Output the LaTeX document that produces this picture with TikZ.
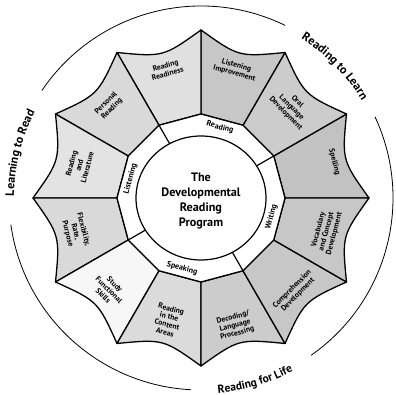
\documentclass[tikz,border=0pt]{standalone}
\usepackage{fontspec}
\setmainfont{PT Sans}
\usetikzlibrary{decorations.text}
\begin{document}
\begin{tikzpicture}[x=1pt,y=1pt,
  petal/.style={draw=black, line width=1.3pt, line join=round},
  ptext/.style={font=\bfseries\fontsize{7.6}{8.2}\selectfont, align=center, inner sep=0pt},
  ringtext/.style={font=\bfseries\fontsize{8}{9}\selectfont, inner sep=0pt},
  arctext/.style={decorate, decoration={text along path, text align=center, text={#1}}}]
\useasboundingbox (0,0) rectangle (396,395);
\begin{scope}[shift={(201,197)}]
  % petals
  \foreach \a/\f in {0/24,30/20,60/22,90/12,120/15,150/11,180/15,210/3,240/14,270/20,300/22,330/22}{
    \filldraw[petal, fill=black!\f] (\a:84) -- (\a:168)
      .. controls (\a+15:146) .. (\a+30:168) -- (\a+30:84) -- cycle;
  }
  % ring
  \filldraw[petal, fill=white] (0:84) -- (30:84) -- (60:84) -- (90:84) -- (120:84) -- (150:84)
    -- (180:84) -- (210:84) -- (240:84) -- (270:84) -- (300:84) -- (330:84) -- cycle;
  \foreach \a in {30,120,210,300}{ \draw[line width=1.2pt] (\a:50) -- (\a:84); }
  \filldraw[line width=1.2pt, fill=white] (0,0) ellipse[x radius=65, y radius=62];
  % outer circle
  \draw[line width=0.8pt] (64:192) arc[start angle=64, end angle=146, radius=192];
  \draw[line width=0.8pt] (188:192) arc[start angle=188, end angle=267, radius=192];
  \draw[line width=0.8pt] (-55:192) arc[start angle=-55, end angle=25, radius=192];
  % arc texts
  \path[arctext={|\bfseries\fontsize{12}{12}\selectfont|Reading to Learn}]
    (63:188) arc[start angle=63, end angle=26, radius=188];
  \path[arctext={|\bfseries\fontsize{12}{12}\selectfont|Learning to Read}]
    (200:187) arc[start angle=200, end angle=132, radius=187];
  \path[arctext={|\bfseries\fontsize{11.5}{12}\selectfont|Reading for Life}]
    (-110:196) arc[start angle=-110, end angle=-37, radius=196];
  % center
  \node[font=\bfseries\fontsize{12.2}{15}\selectfont, align=center, inner sep=0pt] (title) at (0,-3)
    {The\\Developmental\\Reading\\Program};
  % ring labels
  \node[ringtext, rotate=-15] (rRead) at (75:73) {Reading};
  \node[ringtext, rotate=75] (rWrite) at (-15:73) {Writing};
  \node[ringtext, rotate=-15] (rSpeak) at (-105:73) {Speaking};
  \node[ringtext, rotate=75] (rListen) at (165:73) {Listening};
  % petal labels
  \node[ptext, rotate=15] (p1) at (105:133) {Reading\\Readiness};
  \node[ptext, rotate=-15] (p2) at (75:133) {Listening\\Improvement};
  \node[ptext, rotate=-45] (p3) at (45:128) {Oral\\Language\\Development};
  \node[ptext, rotate=-75] (p4) at (15:138) {Spelling};
  \node[ptext, rotate=75] (p5) at (-15:130) {Vocabulary\\and Concept\\Development};
  \node[ptext, rotate=45] (p6) at (-45:133) {Comprehension\\Development};
  \node[ptext, rotate=15] (p7) at (-75:132) {Decoding/\\Language\\Processing};
  \node[ptext, rotate=-15] (p8) at (-105:127) {Reading\\in the\\Content\\Areas};
  \node[ptext, rotate=-45] (p9) at (-135:130) {Study\\Functional\\Skills};
  \node[ptext, rotate=-75] (p10) at (-165:130) {Flexibility,\\Rate,\\Purpose};
  \node[ptext, rotate=75] (p11) at (165:126) {Reading\\and\\Literature};
  \node[ptext, rotate=45] (p12) at (135:130) {Personal\\Reading};
\end{scope}
\end{tikzpicture}
\end{document}
